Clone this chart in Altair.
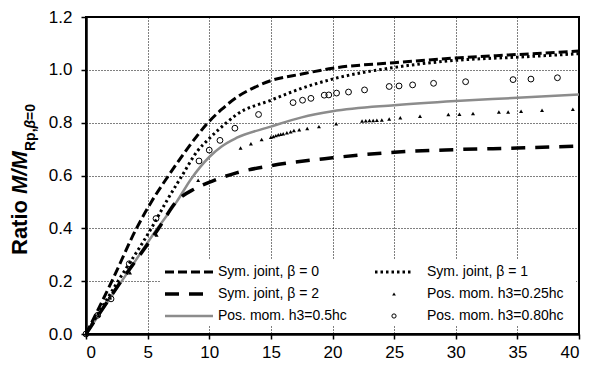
import altair as alt
import pandas as pd

# ---- data ----
sym0_x = [0, 2.1, 4.1, 5.3, 6.7, 8.2, 9.9, 11.0, 12.2, 13.6, 15, 17.5, 20, 25, 30, 35, 40]
sym0_y = [0, 0.2, 0.4, 0.5, 0.6, 0.7, 0.8, 0.85, 0.895, 0.932, 0.959, 0.984, 1.006, 1.027, 1.045, 1.058, 1.071]

sym1_x = [0, 2.6, 5.3, 6.5, 7.8, 9.0, 10, 11.4, 12.2, 15, 17.5, 20, 25, 30, 35, 40]
sym1_y = [0, 0.2, 0.4, 0.5, 0.6, 0.69, 0.74, 0.8, 0.83, 0.885, 0.93, 0.965, 1.009, 1.036, 1.048, 1.061]

sym2_x = [0, 2.85, 5.9, 7.3, 8.84, 10.3, 12.2, 15, 20, 25, 30, 35, 40]
sym2_y = [0, 0.2, 0.4, 0.5, 0.55, 0.58, 0.61, 0.637, 0.667, 0.688, 0.698, 0.704, 0.711]

pos05_x = [0, 2.9, 5.8, 7.35, 8.5, 10, 11, 12.2, 15, 17.5, 20, 25, 30, 35, 40]
pos05_y = [0, 0.2, 0.4, 0.5, 0.585, 0.67, 0.71, 0.742, 0.785, 0.82, 0.843, 0.866, 0.882, 0.894, 0.907]

tri_x = [0, 1.03, 1.95, 3.57, 5.73, 9.1, 12.54, 13.38, 14.25, 15.0, 15.2, 15.4, 15.6, 15.8,
         16.0, 16.3, 16.6, 16.87, 17.3, 17.95, 18.9, 20.3, 22.4, 22.7, 23.0, 23.3, 23.6, 24.0,
         24.6, 25.5, 27.1, 29.4, 30.3, 31.4, 33.5, 34.25, 35.3, 37.0, 39.5]
tri_y = [0, 0.071, 0.137, 0.232, 0.375, 0.582, 0.704, 0.72, 0.736, 0.745, 0.748, 0.751, 0.754, 0.756,
         0.758, 0.762, 0.766, 0.770, 0.773, 0.778, 0.785, 0.796, 0.806, 0.807, 0.808, 0.808, 0.809, 0.81,
         0.814, 0.819, 0.824, 0.831, 0.832, 0.835, 0.84, 0.84, 0.843, 0.847, 0.851]

circ_x = [0, 0.95, 2.03, 3.51, 5.68, 9.17, 10.0, 10.87, 12.08, 14.0, 16.8, 17.57, 18.25, 19.33,
          19.7, 20.33, 21.3, 22.6, 24.6, 25.4, 26.5, 28.2, 30.8, 34.65, 36.1, 38.25]
circ_y = [0, 0.071, 0.133, 0.266, 0.437, 0.655, 0.696, 0.733, 0.779, 0.831, 0.876, 0.885, 0.892, 0.904,
          0.905, 0.912, 0.916, 0.924, 0.937, 0.939, 0.943, 0.949, 0.955, 0.963, 0.965, 0.970]

legend_labels = ["Sym. joint, \u03b2 = 0", "Sym. joint, \u03b2 = 2", "Pos. mom. h3=0.5hc",
                 "Sym. joint, \u03b2 = 1", "Pos. mom. h3=0.25hc", "Pos. mom. h3=0.80hc"]

x_ticks = [0, 5, 10, 15, 20, 25, 30, 35, 40]
y_ticks = [0.0, 0.2, 0.4, 0.6, 0.8, 1.0, 1.2]

FONT = "Liberation Sans"

x_enc = alt.X("x:Q", scale=alt.Scale(domain=[0, 40], nice=False, zero=False),
              axis=alt.Axis(values=x_ticks, title=None, labelFontSize=17, labelPadding=5,
                            tickSize=5, grid=True, format="d"))
y_enc = alt.Y("y:Q", scale=alt.Scale(domain=[0, 1.2], nice=False),
              axis=alt.Axis(values=y_ticks, title=None, labelFontSize=17, labelPadding=9,
                            tickSize=5, grid=True, format=".1f"))


def df(xs, ys):
    return pd.DataFrame({"x": xs, "y": ys})


def line(xs, ys, **kw):
    return alt.Chart(df(xs, ys)).mark_line(interpolate="monotone", clip=True, **kw).encode(x=x_enc, y=y_enc)


# legend background (covers grid lines)
legend_bg = alt.Chart(pd.DataFrame({"a": [0]})).mark_rect(fill="white", stroke=None).encode(
    x=alt.value(74), x2=alt.value(490), y=alt.value(243), y2=alt.value(309))

l_sym0 = line(sym0_x, sym0_y, color="black", strokeWidth=3, strokeDash=[9, 4])
l_sym1 = line(sym1_x, sym1_y, color="black", strokeWidth=3, strokeDash=[2.5, 3])
l_sym2 = line(sym2_x, sym2_y, color="black", strokeWidth=3.5, strokeDash=[14, 10])
l_pos05 = line(pos05_x, pos05_y, color="#8c8c8c", strokeWidth=2.5)

p_tri = alt.Chart(df(tri_x, tri_y)).mark_point(shape="triangle-up", filled=True, color="black",
                                                 size=16, opacity=1).encode(x=x_enc, y=y_enc)
p_circ = alt.Chart(df(circ_x, circ_y)).mark_point(shape="circle", filled=False, color="black",
                                                   size=34, strokeWidth=1, opacity=1).encode(x=x_enc, y=y_enc)

one = pd.DataFrame({"a": [0]})
rows_y = [255, 277, 299]
col1_sym = (79, 127)
col1_txt = 132
col2_sym = (289, 327)
col2_mark = 308
col2_txt = 341

leg = []
# column 1 symbols
leg.append(alt.Chart(one).mark_rule(color="black", strokeWidth=3, strokeDash=[9, 4]).encode(
    x=alt.value(col1_sym[0]), x2=alt.value(col1_sym[1]), y=alt.value(rows_y[0])))
leg.append(alt.Chart(one).mark_rule(color="black", strokeWidth=3.5, strokeDash=[14, 10]).encode(
    x=alt.value(col1_sym[0]), x2=alt.value(col1_sym[1]), y=alt.value(rows_y[1])))
leg.append(alt.Chart(one).mark_rule(color="#8c8c8c", strokeWidth=2.5).encode(
    x=alt.value(col1_sym[0]), x2=alt.value(col1_sym[1]), y=alt.value(rows_y[2])))
# column 2 symbols
leg.append(alt.Chart(one).mark_rule(color="black", strokeWidth=3, strokeDash=[2.5, 3]).encode(
    x=alt.value(col2_sym[0]), x2=alt.value(col2_sym[1]), y=alt.value(rows_y[0])))
leg.append(alt.Chart(one).mark_point(shape="triangle-up", filled=True, color="black", size=14, opacity=1).encode(
    x=alt.value(col2_mark), y=alt.value(rows_y[1])))
leg.append(alt.Chart(one).mark_point(shape="circle", filled=False, color="black", size=18, strokeWidth=1, opacity=1).encode(
    x=alt.value(col2_mark), y=alt.value(rows_y[2])))
# labels
for i, lab in enumerate(legend_labels):
    tx = col1_txt if i < 3 else col2_txt
    ty = rows_y[i % 3]
    leg.append(alt.Chart(pd.DataFrame({"t": [lab]})).mark_text(
        align="left", baseline="middle", font=FONT, fontSize=14, color="black").encode(
        x=alt.value(tx), y=alt.value(ty), text="t:N"))

# y-axis title built from styled pieces: Ratio M/M_{Rp,β=0}
title_pieces = [
    ("Ratio ", 22, "normal", -59, 238),
    ("M/M", 22, "italic", -59, 177),
    ("Rp,", 14, "normal", -51, 134),
    ("\u03b2", 14, "italic", -51, 111.5),
    ("=0", 14, "normal", -51, 103),
]
for txt, fs, style, px, py in title_pieces:
    leg.append(alt.Chart(pd.DataFrame({"t": [txt]})).mark_text(
        align="left", baseline="alphabetic", angle=270, font=FONT, fontSize=fs,
        fontWeight="bold", fontStyle=style, color="black").encode(
        x=alt.value(px), y=alt.value(py), text="t:N"))

chart = alt.layer(legend_bg, l_pos05, l_sym2, l_sym1, l_sym0, p_tri, p_circ, *leg).properties(
    width=493, height=317,
    autosize=alt.AutoSizeParams(type="none"),
    padding={"left": 78, "top": 9, "right": 5, "bottom": 30},
).configure_view(
    stroke="black", strokeWidth=2
).configure_axis(
    domainColor="black", domainWidth=2.5, tickColor="black", tickWidth=1.5,
    gridColor="black", gridDash=[1, 2], gridWidth=1, gridOpacity=1,
    labelFont=FONT, labelColor="black",
)

chart.save("out.html", embed_options={"renderer": "svg", "actions": False})
